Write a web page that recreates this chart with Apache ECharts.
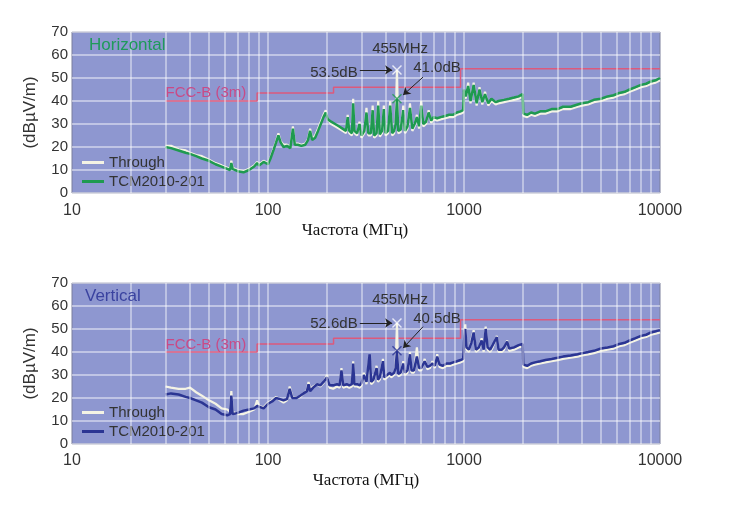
<!DOCTYPE html>
<html><head><meta charset="utf-8">
<script src="https://cdn.jsdelivr.net/npm/echarts@6/dist/echarts.min.js"></script>
<style>html,body{margin:0;padding:0;background:#fff}#c{width:743px;height:516px}</style>
</head><body><div id="c"></div>
<script>
// ---------- data ----------
const xTickLabels = [10, 100, 1000, 10000];
const xMinorGrid = [20,30,40,50,60,70,80,90,100,200,300,400,500,600,700,800,900,1000,2000,3000,4000,5000,6000,7000,8000,9000];
const yTicks = [0,10,20,30,40,50,60,70];

const fccFreq  = [30, 88, 216, 960, 10000];
const fccLimit = [40, 43.5, 46, 54, 54];

const markerFreq = 455;
const markerH = [53.5, 41.0];
const markerV = [52.6, 40.5];

const freqH = [30,32,35,38,40,43,46,50,54,58,
 62,64,65,66,70,75,80,85,88,90,
 95,100,103,107,110,113,116,120,125,130,
 134,137,142,148,155,160,164,168,174,180,
 186,192,197,202,210,220,230,240,250,255,
 260,268,272,276,285,293,300,310,318,325,
 335,342,348,358,365,372,382,390,398,410,
 420,430,440,448,455,462,475,490,500,515,
 530,545,560,575,590,605,620,640,660,680,
 700,730,760,800,840,880,920,960,990,1000,
 1020,1050,1080,1120,1160,1200,1240,1280,1330,1380,
 1450,1500,1600,1700,1800,1900,1990,2010,2100,2200,
 2300,2450,2600,2800,3000,3200,3500,3800,4000,4300,
 4600,5000,5400,5800,6200,6600,7000,7500,8000,8500,
 9000,9500,10000];
const tcmH = [20,19.5,18.5,17.5,17,16,15,14,12.5,11.5,
 10.5,10,13,10.5,9.5,9,10,11.5,13,12,
 13.5,12.5,15,19,22,25,22,20,20.5,19.5,
 28,21,21,20.5,21,23,27,23,24,27,
 30,33,35,32,31,30,29,28,27,33,
 27,26,39,27,26,30,25,27,35,26,
 26,36,25,26,38,25.5,27,36.5,26,27,
 38,26,27,30,41,27,27.5,36,27,29,
 37,28,30,33,29,38,30,31,35,31.5,
 33,32.5,33,33.5,34,34,35,35.5,36,45,
 42,46.5,40,47,39,45,39.5,43,39,41,
 39.5,40,40.5,41,41.5,42,43,34.5,34,35,
 34.5,35.5,35.5,36.5,36.5,37.5,37.5,38.5,39,39.5,
 40.5,41,42,42.5,43.5,44,45,46,47,47.5,
 48.5,49,50];
const throughH = [20.5,20.5,19,18.5,17.5,16.5,16,14.5,13,12,
 11,10.5,14,11,10,9.5,10.5,12,13.5,12.5,
 14,13,15.5,19.5,22.5,26,22.5,21,21,20,
 29,21.5,21.5,21,21.5,23.5,28,23.5,25,28,
 31,34,36,32,30,29,28,27,26,34,
 26,25,41,26,25,31,24,26,37,25,
 25,38,24,25,40,24.5,26,38,25,26,
 40,25,26,31,53.5,26,26.5,38,26,28,
 39,27,29,34,28,40,29,30,36,30.5,
 32,31.5,32,32.5,33,33,34,34.5,35,44,
 41,48,39,48,38,46,38.5,44,38,40,
 38.5,39,39.5,40,40.5,41,42,33.5,33,34,
 33.5,34.5,34.5,35.5,35.5,36.5,36.5,37.5,38,38.5,
 39.5,40,41,41.5,42.5,43,44,45,46,46.5,
 47.5,48,49];

const freqV = [30,32,35,38,40,43,46,50,54,58,
 62,64,65,66,70,75,80,85,88,90,
 95,100,105,110,115,120,125,129,133,140,
 146,152,158,161,164,170,178,185,192,200,
 206,215,225,232,237,242,252,260,268,272,
 276,285,294,300,308,318,325,330,336,345,
 352,358,364,372,380,386,392,405,419,425,
 440,448,455,462,475,490,500,515,530,540,
 555,575,590,605,630,650,670,690,710,730,
 750,780,815,850,880,920,960,990,1005,1015,
 1030,1060,1090,1120,1150,1190,1230,1260,1290,1320,
 1360,1400,1470,1500,1560,1600,1660,1700,1800,1900,
 1990,2010,2100,2200,2300,2450,2600,2800,3000,3200,
 3500,3800,4000,4300,4600,5000,5400,5800,6200,6600,
 7000,7500,8000,8500,9000,9500,10000];
const tcmV = [21.5,22,21.5,20.5,20,19,18,16,15,13,
 12.5,13,21,13,13.5,14.5,15,15.5,16.5,16,
 15.5,17.5,18.5,20,19.5,19,19.5,24,20,20,
 21,22,23,26,23,24.5,26,25.5,27,29,
 25.5,25.5,26,25.5,32,25.5,26,25.5,26,35,
 26,26,25.5,26.5,30,27,26.5,39,27,28,
 28.5,33,28,29,29,36,29,30,31,30,
 31,33,40.5,30.5,31,35,31,32,39,32,
 32,38,33,33,36,33.5,34,35,34,38,
 34.5,34,35,35,35.5,36,36.5,37,47,50,
 42,41,44,48.5,41,42,45,41,50,42,
 41,43,46.5,41,41,42,44.5,41.5,42,43,
 43.5,34.5,34,35,35.5,36,36.5,37,37.5,38,
 38.5,39,39.5,40,40.5,41.5,42,42.5,43.5,44,
 45,46,47,47.5,48.5,49,49.5];
const throughV = [25,24.5,24,24,24.5,22.5,21,19,17.5,15.5,
 15,14,23,14,13,13,14,15,19,16.5,
 16,18,19,20.5,19,18,19,25,20.5,20,
 20.5,22,23.5,27,24,25,26,25,26.5,30,
 24.5,24,25,24.5,33,24.5,25,24.5,25,36,
 25,25,24.5,25.5,31,26,25.5,38,26,27,
 27.5,34,27,28,28,37,28,29,30,29,
 30,34,52.6,29.5,30,36,30,31,40,31,
 31,42,32,32,37,32.5,33,36,33,39,
 33.5,33,34,34,34.5,35,35.5,36,47,52,
 41,40,45,49.5,40,41,46,40,51,41,
 40,42,47,40,40,41,45,40.5,41,42,
 42.5,33.5,33,34,34.5,35,35.5,36,36.5,37,
 37.5,38,38.5,39,39.5,40.5,41,41.5,42.5,43,
 44,45,46,46.5,47.5,48,48.5];

// ---------- styles ----------
const SANS = 'Liberation Sans';
const GREEN = '#1f9a50', BLUE = '#2b3593', CREAM = '#f4f3e4', FCC = '#dc5a7c', FCCTXT = '#c94a86';
const BG = '#8e97d0';
const XSYM = 'path://M0,1L1,0L5,4L9,0L10,1L6,5L10,9L9,10L5,6L1,10L0,9L4,5Z';

const pair = (fs, vs) => fs.map((f, i) => [f, vs[i]]);

function makeGrid(top) {
  return { left: 72, right: 83, top: top, height: 161, show: true, backgroundColor: BG, borderColor: '#7b7f9c', borderWidth: 1 };
}
function makeX(gi, labelMargin, nameGap, namePad) {
  return {
    type: 'log', logBase: 10, min: 10, max: 10000, gridIndex: gi,
    axisLine: { show: false }, axisTick: { show: false }, splitLine: { show: false }, minorTick: { show: false },
    axisLabel: { fontFamily: SANS, fontSize: 16, color: '#333', margin: labelMargin, formatter: v => String(Math.round(v)) },
    name: 'Частота (МГц)', nameLocation: 'middle', nameGap: nameGap,
    nameTextStyle: { fontFamily: 'Liberation Serif', fontSize: 17, color: '#111', padding: namePad }
  };
}
function makeY(gi) {
  return {
    type: 'value', min: 0, max: 70, interval: 10, gridIndex: gi,
    axisLine: { show: false }, axisTick: { show: false },
    splitLine: { lineStyle: { color: 'rgba(255,255,255,0.6)', width: 1.5 } },
    axisLabel: { fontFamily: SANS, fontSize: 15, color: '#333', margin: 4 },
    name: '(dBµV/m)', nameLocation: 'middle', nameGap: 33,
    nameTextStyle: { fontFamily: SANS, fontSize: 17, color: '#333' }
  };
}

function panelSeries(gi, freq, thr, tcm, color, mk, fccLabelDb, arrow2) {
  const txt = { fontFamily: SANS, fontSize: 15, color: '#333' };
  return [
    { // vertical grid lines
      type: 'line', xAxisIndex: gi, yAxisIndex: gi, data: [], z: 1, silent: true,
      markLine: { silent: true, symbol: ['none', 'none'], label: { show: false }, animation: false,
        lineStyle: { color: 'rgba(255,255,255,0.55)', width: 1.5, type: 'solid' },
        emphasis: { disabled: true },
        data: xMinorGrid.map(v => ({ xAxis: v })) }
    },
    { // FCC limit
      name: 'FCC', type: 'line', step: 'end', xAxisIndex: gi, yAxisIndex: gi, z: 2, silent: true,
      data: pair(fccFreq, fccLimit), showSymbol: false, symbol: 'none',
      lineStyle: { color: FCC, width: 1.5 },
      markPoint: { symbolSize: 0, silent: true, animation: false,
        data: [{ coord: [fccFreq[0], fccLabelDb], label: { show: true, position: 'right', distance: 0,
          formatter: 'FCC-B (3m)', fontFamily: SANS, fontSize: 15, color: FCCTXT } }] }
    },
    { name: 'Through', type: 'line', xAxisIndex: gi, yAxisIndex: gi, z: 3, silent: true,
      data: pair(freq, thr), showSymbol: false, symbol: 'none',
      lineStyle: { color: CREAM, width: 2.2 } },
    { name: 'TCM2010-201', type: 'line', xAxisIndex: gi, yAxisIndex: gi, z: 4, silent: true,
      data: pair(freq, tcm), showSymbol: false, symbol: 'none',
      lineStyle: { color: color, width: 2.5 } },
    { name: 'mk' + gi, type: 'scatter', xAxisIndex: gi, yAxisIndex: gi, z: 6, silent: true,
      symbol: XSYM, symbolSize: 10,
      data: [ { value: [markerFreq, mk[0]], itemStyle: { color: '#ffffff' } },
              { value: [markerFreq, mk[1]], itemStyle: { color: color } } ],
      markLine: { silent: true, symbol: ['none', 'arrow'], symbolSize: 7, animation: false,
        label: { show: false }, lineStyle: { color: '#222', width: 1, type: 'solid' },
        data: [ [ { coord: [294, mk[0]] }, { coord: [430, mk[0]] } ],
                [ { coord: arrow2[0] }, { coord: arrow2[1] } ] ] },
      markPoint: { symbolSize: 0, silent: true, animation: false,
        label: Object.assign({ show: true, position: 'inside', align: 'center', verticalAlign: 'middle' }, txt),
        data: [ { coord: [472, 62.6], label: { formatter: markerFreq + 'MHz' } },
                { coord: [217, 52.2], label: { formatter: mk[0].toFixed(1) + 'dB' } },
                { coord: [728, 54.6], label: { formatter: mk[1].toFixed(1) + 'dB' } } ] }
    }
  ];
}

function makeLegend(top, color) {
  return {
    orient: 'vertical', left: 82, top: top, padding: 0, itemGap: 4,
    icon: 'rect', itemWidth: 22, itemHeight: 3, selectedMode: false,
    textStyle: { fontFamily: SANS, fontSize: 15, color: '#333' },
    data: [ { name: 'Through', itemStyle: { color: CREAM } },
            { name: 'TCM2010-201', itemStyle: { color: color } } ]
  };
}

const chart = echarts.init(document.getElementById('c'), null, { renderer: 'canvas' });
chart.setOption({
  animation: false,
  backgroundColor: '#ffffff',
  title: [
    { text: 'Horizontal', left: 89, top: 37, padding: 0, textStyle: { fontFamily: SANS, fontSize: 17, fontWeight: 'normal', color: '#1e9a5a' } },
    { text: 'Vertical', left: 85, top: 288, padding: 0, textStyle: { fontFamily: SANS, fontSize: 17, fontWeight: 'normal', color: '#3a43a0' } }
  ],
  legend: [ makeLegend(155, GREEN), makeLegend(405, BLUE) ],
  grid: [ makeGrid(32), makeGrid(283) ],
  xAxis: [ makeX(0, 10, 29, [0, 22, 0, 0]), makeX(1, 9, 28, [0, 0, 0, 0]) ],
  yAxis: [ makeY(0), makeY(1) ],
  series: [
    ...panelSeries(0, freqH, throughH, tcmH, GREEN, markerH, 43.5, [[618, 50.4], [489, 42.6]]),
    ...panelSeries(1, freqV, throughV, tcmV, BLUE, markerV, 43.0, [[618, 51.0], [489, 41.7]])
  ]
});
</script></body></html>
